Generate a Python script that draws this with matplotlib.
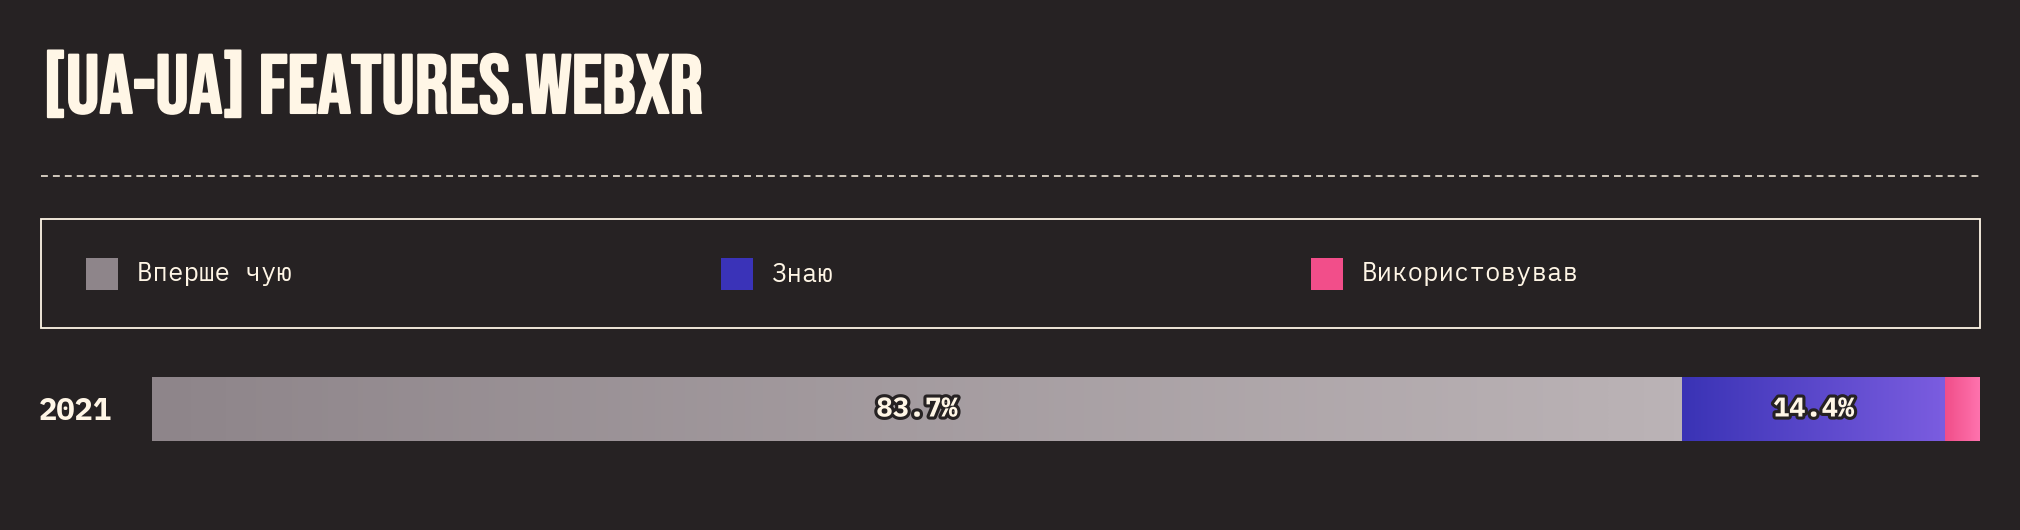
import matplotlib
matplotlib.use('Agg')
import matplotlib.pyplot as plt
import matplotlib.patheffects as pe
from matplotlib.colors import LinearSegmentedColormap
from matplotlib.patches import Rectangle
import numpy as np

# data
title = '[UA-UA] FEATURES.WEBXR'
years = ['2021']
categories = ['Вперше чую', 'Знаю', 'Використовував']
values = [83.7, 14.4, 1.9]

bg = '#262223'
cream = '#FFF6E6'
legend_colors = ['#8E858A', '#3A33B8', '#F24E8A']
gradients = [('#8E858A', '#BBB3B6'), ('#3A33B5', '#7B5DE0'), ('#F04E89', '#FF73AE')]
mono = ['IBM Plex Mono', 'DejaVu Sans Mono']

W, H = 2020, 530
fig = plt.figure(figsize=(W / 100, H / 100), dpi=100, facecolor=bg)

# overlay in pixel coords for title / legend
ov = fig.add_axes([0, 0, 1, 1])
ov.set_xlim(0, W)
ov.set_ylim(H, 0)
ov.axis('off')
ov.patch.set_alpha(0)

# bebas is lighter than the original, thicken it a bit with a stroke
ov.text(43, 113, title, color=cream, fontsize=60,
        family=['Bebas Neue', 'DejaVu Sans'], va='baseline', ha='left',
        path_effects=[pe.withStroke(linewidth=1.5, foreground=cream)])

ov.plot([41, 1980], [176, 176], color=cream, lw=1.1, dashes=(4.5, 3.3))

ov.add_patch(Rectangle((41, 219), 1939, 109, fill=False, edgecolor=cream, lw=1.3))
sq_x = [86, 721, 1311]
for x, c, lab in zip(sq_x, legend_colors, categories):
    ov.add_patch(Rectangle((x, 258), 32, 32, facecolor=c, edgecolor='none'))
    ov.text(x + 51, 274, lab, color=cream, fontsize=18.5, family=mono,
            va='center', ha='left')

ov.text(39, 411, years[0], color=cream, fontsize=22, fontweight='bold',
        family=mono, va='center', ha='left')

# bar axes
ax = fig.add_axes([152 / W, (H - 441) / H, 1828 / W, 64 / H])
ax.axis('off')
ax.patch.set_alpha(0)

left = 0
for v, (c0, c1) in zip(values, gradients):
    bar = ax.barh(0, v, left=left, height=1, color='none', edgecolor='none')[0]
    cmap = LinearSegmentedColormap.from_list('g', [c0, c1])
    im = ax.imshow(np.linspace(0, 1, 256).reshape(1, -1), cmap=cmap, aspect='auto',
                   extent=[left, left + v, -0.5, 0.5], interpolation='bilinear')
    im.set_clip_path(bar)
    if v > 5:
        ax.text(left + v / 2, 0, f'{v:.1f}%', color=cream, fontsize=19.5, fontweight='bold',
                family=mono, ha='center', va='center',
                path_effects=[pe.withStroke(linewidth=4.5, foreground=bg)])
    left += v
ax.set_xlim(0, sum(values))
ax.set_ylim(-0.5, 0.5)

fig.savefig('out.png', dpi=100, facecolor=bg)
